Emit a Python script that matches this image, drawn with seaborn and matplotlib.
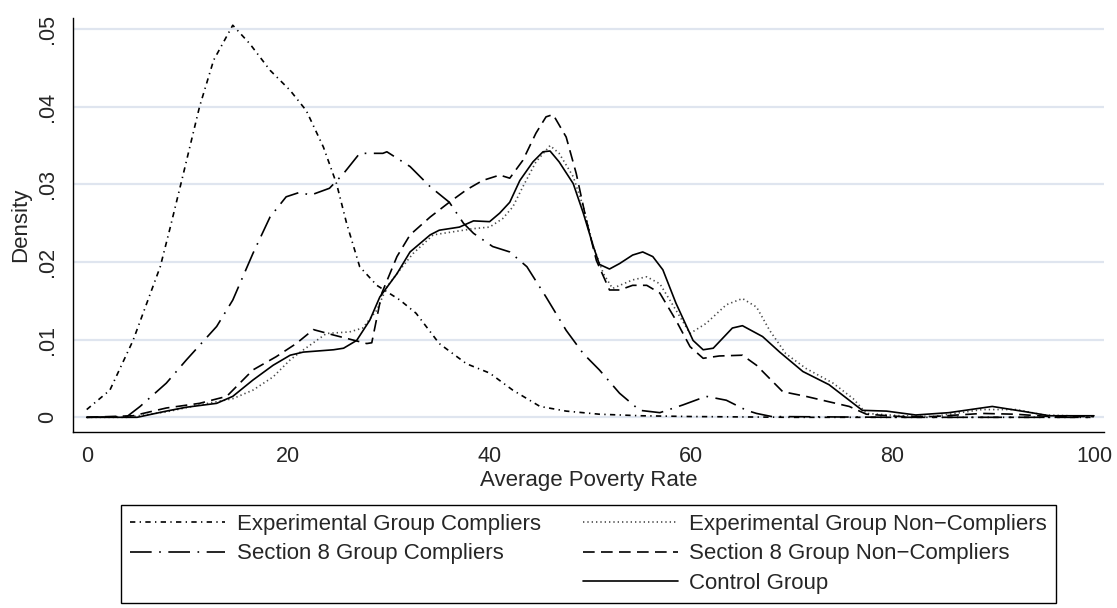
import numpy as np
import pandas as pd
import seaborn as sns
import matplotlib.pyplot as plt
from matplotlib.lines import Line2D

# ---- values (kernel densities of average poverty rate)
exp_c_x = [0, 2.3, 4.6, 7.3, 8.3, 9.6, 11.2, 12.6, 14.5, 16.2, 18.2, 20.2, 21.8, 23.5, 24.8, 25.8,
           27.1, 28.8, 31.1, 32.7, 35.0, 37.7, 40.0, 42.3, 45.0, 47.6, 50.9, 55, 60, 70, 80, 90, 100]
exp_c_y = [.0010, .0035, .0099, .0194, .0245, .0314, .0400, .0460, .0505, .0481, .0447, .0421, .0395,
           .0348, .0301, .0250, .0194, .0170, .0151, .0134, .0095, .0069, .0057, .0035, .0014, .0008,
           .0004, .0002, .0001, .0000, .0000, .0000, .0000]

s8_c_x = [0, 4.0, 5.3, 7.9, 9.9, 12.9, 14.5, 16.5, 18.2, 19.8, 21.2, 22.2, 24.1, 25.5, 27.1, 29.4,
          29.8, 32.1, 34.1, 36.0, 37.4, 38.4, 40.3, 42.0, 43.7, 45.6, 47.6, 49.3, 50.9, 52.9, 54.9,
          56.9, 59.2, 61.5, 63.5, 65.5, 66.5, 68, 80, 100]
s8_c_y = [.0000, .0001, .0014, .0044, .0074, .0117, .0151, .0211, .0258, .0284, .0290, .0286, .0295,
          .0314, .0340, .0340, .0342, .0323, .0297, .0277, .0250, .0237, .0220, .0213, .0194, .0155,
          .0112, .0082, .0061, .0031, .0009, .0006, .0016, .0027, .0022, .0009, .0005, .0001, 0, 0]

exp_nc_x = [0, 4, 7.9, 11.2, 14.5, 16.5, 18.5, 20.2, 21.2, 23.8, 26.1, 27.4, 28.8, 29.8, 31.1, 32.4,
            34.4, 36.4, 38.4, 40.0, 41.3, 42.3, 43.3, 44.6, 46.0, 46.9, 48.3, 49.3, 50.3, 51.3, 52.2,
            54.2, 55.6, 56.9, 58.5, 59.9, 61.5, 63.5, 65.1, 66.5, 67.8, 69.4, 71.4, 74.1, 76.1, 77.4,
            80.8, 84.0, 88.9, 92.3, 95.0, 100]
exp_nc_y = [0, 0, .0007, .0016, .0024, .0035, .0052, .0074, .0084, .0108, .0110, .0115, .0138, .0168,
            .0190, .0211, .0235, .0239, .0243, .0245, .0256, .0271, .0297, .0329, .0350, .0340, .0310,
            .0271, .0220, .0185, .0166, .0177, .0181, .0172, .0138, .0108, .0121, .0145, .0153, .0142,
            .0112, .0082, .0063, .0044, .0024, .0005, .0002, .0001, .0010, .0010, .0003, .0001]

s8_nc_x = [0, 4.6, 7.9, 11.2, 13.9, 16.5, 18.8, 20.8, 22.5, 24.5, 27.8, 28.3, 29.3, 30.8, 32.1, 34.1,
           36.0, 37.7, 39.3, 41.0, 42.0, 43.3, 44.6, 45.6, 46.3, 47.6, 48.6, 49.6, 50.6, 51.9, 52.9,
           54.2, 55.6, 56.9, 58.5, 59.9, 61.2, 62.8, 65.1, 66.5, 69.1, 71.4, 73.7, 75.7, 77.4, 80.8,
           84.0, 88.9, 92.2, 95.6, 100]
s8_nc_y = [0, .0002, .0012, .0018, .0027, .0061, .0078, .0095, .0113, .0106, .0095, .0096, .0160,
           .0207, .0235, .0258, .0277, .0293, .0305, .0312, .0308, .0331, .0366, .0387, .0390, .0361,
           .0314, .0254, .0202, .0164, .0164, .0170, .0170, .0160, .0125, .0091, .0076, .0079, .0080,
           .0067, .0033, .0027, .0020, .0014, .0004, .0001, .0001, .0005, .0004, .0001, .0001]

ctrl_x = [0, 5, 7.9, 9.9, 12.9, 14.5, 16.5, 18.5, 20.2, 21.5, 24.5, 25.5, 26.8, 28.1, 29.1, 30.8,
          32.1, 34.1, 35.0, 37.0, 38.4, 40.0, 41.0, 42.0, 43.0, 44.3, 45.3, 46.0, 46.9, 48.3, 49.3,
          50.3, 50.9, 51.9, 52.9, 54.2, 55.2, 56.2, 57.2, 58.5, 60.2, 61.2, 62.2, 64.1, 65.1, 67.1,
          68.8, 71.1, 73.7, 77.0, 79.4, 82.3, 85.6, 89.9, 93.3, 95.6, 100]
ctrl_y = [0, 0, .0008, .0013, .0018, .0027, .0048, .0067, .0080, .0084, .0087, .0089, .0099, .0125,
          .0155, .0185, .0213, .0235, .0241, .0245, .0253, .0252, .0263, .0277, .0305, .0329, .0342,
          .0343, .0329, .0301, .0263, .0220, .0197, .0191, .0198, .0209, .0213, .0207, .0190, .0147,
          .0099, .0087, .0089, .0115, .0118, .0104, .0084, .0059, .0042, .0009, .0008, .0003, .0006,
          .0014, .0007, .0002, .0002]

groups = ["Experimental Group Compliers", "Section 8 Group Compliers",
          "Experimental Group Non\u2212Compliers", "Section 8 Group Non\u2212Compliers",
          "Control Group"]
xs = [exp_c_x, s8_c_x, exp_nc_x, s8_nc_x, ctrl_x]
ys = [exp_c_y, s8_c_y, exp_nc_y, s8_nc_y, ctrl_y]

x_ticks = [0, 20, 40, 60, 80, 100]
y_ticks = [0, .01, .02, .03, .04, .05]
y_ticklabels = ["0", ".01", ".02", ".03", ".04", ".05"]

df = pd.concat([pd.DataFrame({"rate": x, "density": y, "group": g})
                for g, x, y in zip(groups, xs, ys)], ignore_index=True)

sns.set_style("white")
plt.rcParams["font.family"] = ["Liberation Sans", "DejaVu Sans"]

palette = {groups[0]: "black", groups[1]: "black", groups[2]: "#4a4a4a",
           groups[3]: "black", groups[4]: "black"}
dashes = {groups[0]: (3.2, 2.6, 0.8, 2.6),
          groups[1]: (13, 4.5, 1, 4.5),
          groups[2]: (0.8, 1.8),
          groups[3]: (7, 3.8),
          groups[4]: ""}

fig = plt.figure(figsize=(11.17, 6.08), dpi=100)
ax = fig.add_axes([0.0651, 0.29, 0.9233, 0.680])

sns.lineplot(data=df, x="rate", y="density", hue="group", style="group",
             hue_order=groups, style_order=groups, palette=palette, dashes=dashes,
             estimator=None, linewidth=1.2, ax=ax)

leg = ax.get_legend()
handle_map = {t.get_text(): h for t, h in zip(leg.get_texts(), leg.legend_handles)}
leg.remove()

ax.set_xlim(-1.39, 101.0)
ax.set_ylim(-0.00185, 0.0514)
ax.set_xticks(x_ticks)
ax.set_yticks(y_ticks)
ax.set_yticklabels(y_ticklabels, rotation=90, va="center")
ax.tick_params(axis="both", direction="out", length=6.5, width=1, color="black",
               labelsize=15.5, pad=4)
ax.yaxis.grid(True, color="#dfe5ef", linewidth=1.6)
ax.xaxis.grid(False)
ax.set_axisbelow(True)
for side in ["top", "right"]:
    ax.spines[side].set_visible(False)
for side in ["left", "bottom"]:
    ax.spines[side].set_color("black")
    ax.spines[side].set_linewidth(1)

ax.set_xlabel("Average Poverty Rate", fontsize=16, labelpad=2)
ax.set_ylabel("Density", fontsize=16, labelpad=4)

# legend: two columns, blank slot under the first column
blank = Line2D([], [], linestyle="none")
order = [groups[0], groups[1], None, groups[2], groups[3], groups[4]]
handles = [handle_map[g] if g else blank for g in order]
labels = [g if g else "" for g in order]
fig.legend(handles, labels, ncol=2, loc="upper left",
           bbox_to_anchor=(121 / 1117, 1 - 505 / 608), bbox_transform=fig.transFigure,
           fontsize=16, frameon=True, fancybox=False, framealpha=1, edgecolor="black",
           handlelength=4.3, handletextpad=0.5, columnspacing=1.9, labelspacing=0.38,
           borderpad=0.4, borderaxespad=0)
fig.legends[0].get_frame().set_linewidth(1)

fig.savefig("out.png", dpi=100)
